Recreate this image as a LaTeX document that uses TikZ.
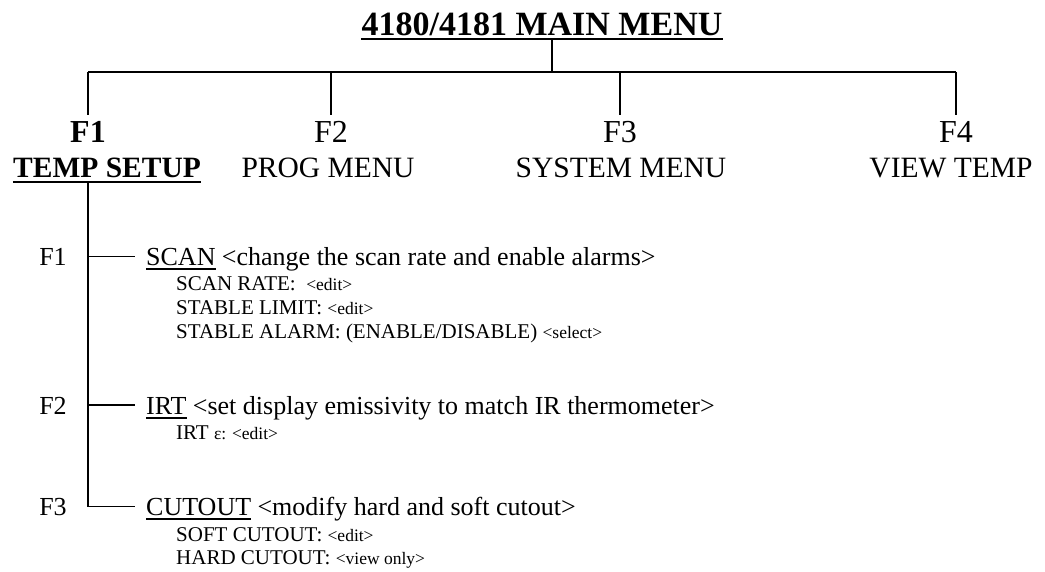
\documentclass[tikz,border=0pt]{standalone}
\usepackage{fontspec}
\setmainfont{Liberation Serif}
\usetikzlibrary{positioning}

\newcommand{\fsz}[1]{\fontsize{#1}{#1}\selectfont}
\newcommand{\hint}[1]{{\fsz{17.5}#1}}

\begin{document}
\begin{tikzpicture}[x=1pt, y=-1pt,
    lbl/.style={inner sep=0pt, anchor=base},
    item/.style={inner sep=0pt, anchor=base west},
    tree/.style={line width=1.8pt},
    uline/.style={line width=2.6pt},
    sline/.style={line width=1.4pt}]

    \useasboundingbox (0,0) rectangle (1045,571);

    % main menu
    \node[lbl, font=\fsz{34}\bfseries] (title) at (542,35) {4180/4181 MAIN MENU};
    \coordinate (tul) at ([yshift=-4pt]title.base);
    \draw[uline] (tul -| title.west) -- (tul -| title.east);

    \node[lbl, font=\fsz{32}\bfseries] (f1) at (88,142) {F1};
    \node[lbl, font=\fsz{32}] (f2) at (331,142) {F2};
    \node[lbl, font=\fsz{32}] (f3) at (620,142) {F3};
    \node[lbl, font=\fsz{32}] (f4) at (956,142) {F4};

    \node[lbl, font=\fsz{29.5}\bfseries] (temp) at (107,177) {TEMP SETUP};
    \node[lbl, font=\fsz{29.5}] (prog) at (328,177) {PROG MENU};
    \node[lbl, font=\fsz{29.5}] (sys) at (621,177) {SYSTEM MENU};
    \node[lbl, font=\fsz{29.5}] (view) at (951,177) {VIEW TEMP};
    \coordinate (sul) at ([yshift=-5pt]temp.base);
    \draw[uline] (sul -| temp.west) -- (sul -| temp.east);

    \coordinate (bar) at (552,72);
    \draw[tree] (tul -| bar) -- (bar);
    \draw[tree] (f1 |- bar) -- (f4 |- bar);
    \foreach \k in {f1,f2,f3,f4} \draw[tree, shorten >=6pt] (\k |- bar) -- (\k.north);

    % temp setup submenu
    \node[lbl, font=\fsz{26}] (k1) at (53,265) {F1};
    \node[lbl, font=\fsz{26}] (k2) at (53,414) {F2};
    \node[lbl, font=\fsz{26}] (k3) at (53,515) {F3};

    \draw[tree] (f1 |- sul) -- (f1 |- k3) -- ++(47,0);
    \draw[tree] (f1 |- k1) -- ++(47,0);
    \draw[tree] (f1 |- k2) -- ++(47,0);

    \node[item, font=\fsz{26}] (scan) at (146,265) {SCAN};
    \node[item, font=\fsz{26}, xshift=6pt] (scand) at (scan.base east) {<change the scan rate and enable alarms>};
    \node[item, font=\fsz{26}] (irt) at (146,414) {IRT};
    \node[item, font=\fsz{26}, xshift=6pt] (irtd) at (irt.base east) {<set display emissivity to match IR thermometer>};
    \node[item, font=\fsz{26}] (cut) at (146,515) {CUTOUT};
    \node[item, font=\fsz{26}, xshift=6pt] (cutd) at (cut.base east) {<modify hard and soft cutout>};
    \foreach \n in {scan,irt,cut}
        \draw[sline] ([yshift=-4pt]\n.base west) -- ([yshift=-4pt]\n.base east);

    \node[item, font=\fsz{21}] (s1) at (176,290) {SCAN RATE:\ \ \hint{<edit>}};
    \node[item, font=\fsz{21}] (s2) at (176,314) {STABLE LIMIT: \hint{<edit>}};
    \node[item, font=\fsz{21}] (s3) at (176,338) {STABLE ALARM: (ENABLE/DISABLE) \hint{<select>}};
    \node[item, font=\fsz{21}] (i1) at (176,439) {IRT \hint{ε: <edit>}};
    \node[item, font=\fsz{21}] (c1) at (176,541) {SOFT CUTOUT: \hint{<edit>}};
    \node[item, font=\fsz{21}] (c2) at (176,564) {HARD CUTOUT: \hint{<view only>}};

\end{tikzpicture}
\end{document}
